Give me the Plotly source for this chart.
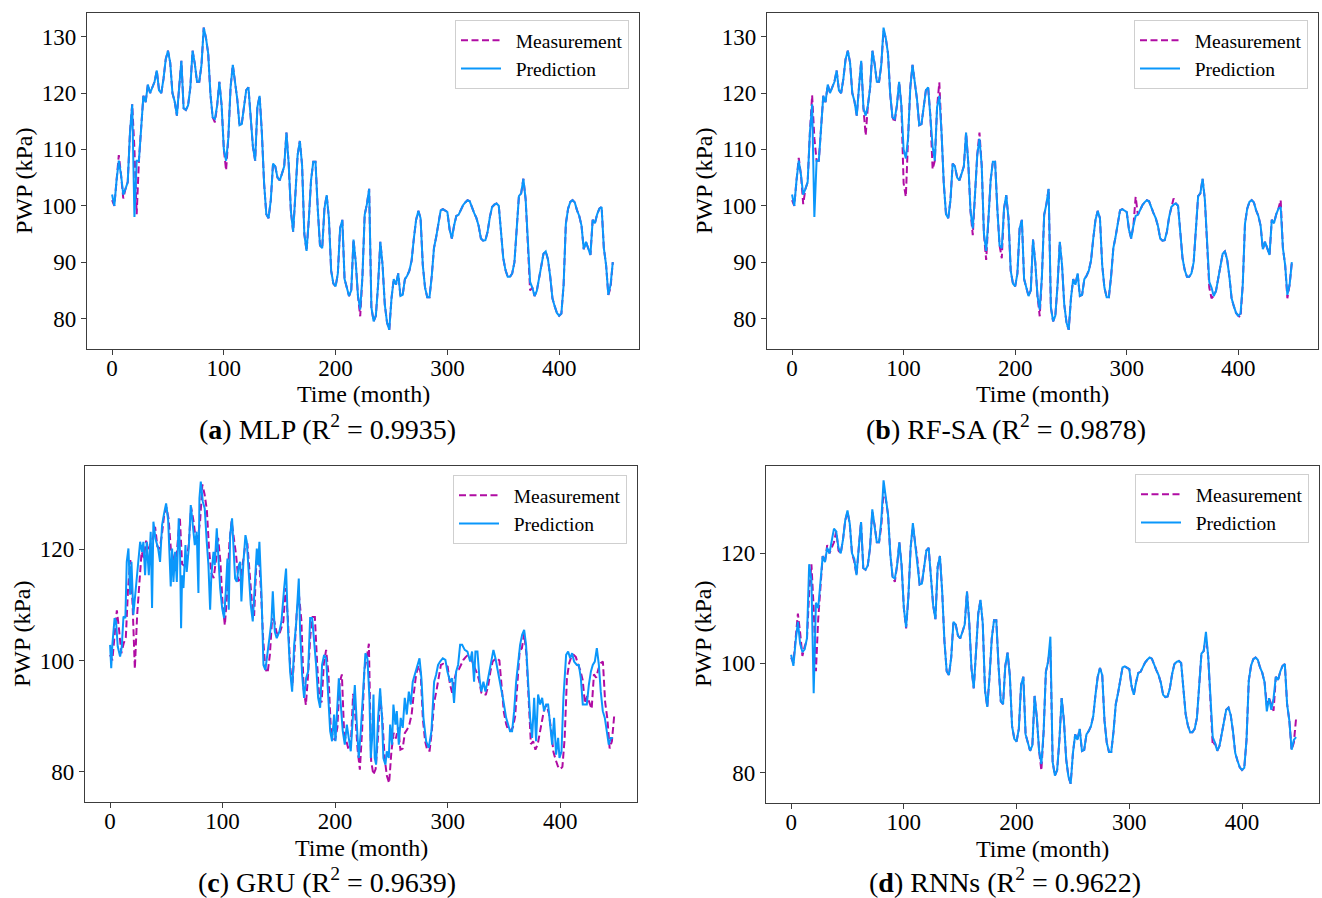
import plotly.graph_objects as go

# ---------------- data ----------------
months = list(range(0, 450, 2))  # 0, 2, ..., 448

measurement = [
    101, 100, 104.5, 109, 105.5, 101.3, 103, 104.2, 113, 118,
    110, 98.5, 108, 113.5, 119.5, 118.4, 121.5, 120, 121, 122,
    124, 120.5, 120, 122.5, 126, 127.5, 125.4, 120, 118.5, 116,
    121, 125.7, 117.3, 117, 117.8, 121, 127.5, 125.2, 122, 122,
    125, 131.6, 129.8, 127, 119.8, 115.7, 114.8, 117.8, 122, 117.8,
    110, 106.3, 112, 121, 125, 121.9, 118.9, 114.3, 114.5, 117.5,
    120.5, 121, 116, 110.5, 108, 117.5, 119.5, 113, 104, 98.5,
    97.8, 101, 107.5, 107, 105, 104.5, 105.7, 107, 113, 107.5,
    99, 95.4, 102, 109, 111.5, 107.2, 95, 92, 97.5, 104.5,
    107.8, 107.8, 99.5, 93, 92.5, 99.5, 101.9, 97.8, 88.5, 86.2,
    85.7, 88, 96, 97.5, 87, 85.6, 84, 85, 94, 90,
    84, 80.4, 87.5, 98.4, 100.3, 103, 82, 79.5, 80.5, 86,
    93.6, 89.5, 82.5, 79.3, 78, 83.6, 87, 86, 88, 84,
    84.2, 87, 87.6, 88.5, 90.3, 94.2, 97.5, 99.1, 97.8, 89.5,
    85.5, 83.8, 83.8, 87.5, 92.5, 94.5, 96.6, 99.2, 99.4, 99.2,
    98.9, 95.8, 94.2, 96.5, 98.2, 98.4, 99.3, 100.1, 100.6, 101,
    100.8, 99.6, 98.7, 97.8, 96.4, 94.2, 93.8, 93.9, 95.4, 98,
    99.8, 100.2, 100.4, 100, 95.4, 90.7, 88.6, 87.4, 87.4, 88,
    90, 96.5, 101.7, 102.2, 104.8, 101.2, 93, 85, 85.5, 84,
    84.9, 87.2, 89, 91.5, 91.9, 90.5, 87.5, 83.6, 82.2, 81,
    80.5, 80.9, 86, 96.8, 99.5, 100.7, 101, 100.6, 99.2, 98.2,
    96.5, 92.3, 93.6, 92.5, 91.3, 97.5, 96.9, 98.5, 99.5, 99.8,
    92.5, 89.5, 84.2, 85.5, 90,
]

pred_mlp = [
    102, 100, 104.5, 108, 105.5, 102, 103, 104.2, 113, 118,
    98, 108, 108, 113.5, 119.5, 118.4, 121.5, 120, 121, 122,
    124, 120.5, 120, 122.5, 126, 127.5, 125.4, 120, 118.5, 116,
    121, 125.7, 117.3, 117, 117.8, 121, 127.5, 125.2, 122, 122,
    125, 131.6, 129.8, 127, 119.8, 115.7, 115.4, 117.8, 122, 117.8,
    110, 108, 112, 121, 125, 121.9, 118.9, 114.3, 114.5, 117.5,
    120.5, 121, 116, 110.5, 108, 117.5, 119.5, 113, 104, 98.5,
    97.8, 101, 107.5, 107, 105, 104.5, 105.7, 107, 113, 107.5,
    99, 95.4, 102, 109, 111.5, 107.2, 95, 92, 97.5, 104.5,
    107.8, 107.8, 99.5, 93, 92.5, 99.5, 101.9, 97.8, 88.5, 86.2,
    85.7, 88, 96, 97.5, 87, 85.6, 84, 85, 94, 90,
    84, 81.6, 87.5, 98.4, 100.3, 103, 82, 79.5, 80.5, 86,
    93.6, 89.5, 82.5, 79.3, 78, 83.6, 87, 86, 88, 84,
    84.2, 87, 87.6, 88.5, 90.3, 94.2, 97.5, 99.1, 97.8, 89.5,
    85.5, 83.8, 83.8, 87.5, 92.5, 94.5, 96.6, 99.2, 99.4, 99.2,
    98.9, 95.8, 94.2, 96.5, 98.2, 98.4, 99.3, 100.1, 100.6, 101,
    100.8, 99.6, 98.7, 97.8, 96.4, 94.2, 93.8, 93.9, 95.4, 98,
    99.8, 100.2, 100.4, 100, 95.4, 90.7, 88.6, 87.4, 87.4, 88,
    90, 96.5, 101.7, 102.2, 104.8, 101.2, 93, 86.5, 85.5, 84,
    84.9, 87.2, 89, 91.5, 91.9, 90.5, 87.5, 83.6, 82.2, 81,
    80.5, 80.9, 86, 96.8, 99.5, 100.7, 101, 100.6, 99.2, 98.2,
    96.5, 92.3, 93.6, 92.5, 91.3, 97.5, 96.9, 98.5, 99.5, 99.8,
    92.5, 89.5, 84.2, 86, 90,
]

measurement_rfsa = [
    101, 100, 104.5, 108.5, 105.5, 100.3, 103, 104.2, 113, 119.6,
    112, 108, 108, 113.5, 119.5, 118.4, 121.5, 120, 121, 122,
    124, 120.5, 120, 122.5, 126, 127.5, 125.4, 120, 118.5, 116,
    121, 125.7, 117.3, 112.5, 117.8, 121, 127.5, 125.2, 122, 122,
    125, 131, 129.8, 127, 119.8, 115.7, 114.8, 117.8, 122, 117.8,
    104, 101.6, 112, 121, 125, 121.9, 118.9, 114.3, 114.5, 117.5,
    120.5, 121, 116, 106.5, 108, 117.5, 121.9, 113, 104, 98.5,
    97.8, 101, 107.5, 107, 105, 104.5, 105.7, 107, 113, 107.5,
    99, 94.8, 102, 109, 113, 107.2, 95, 90.4, 97.5, 104.5,
    107.8, 107.8, 99.5, 93, 90.7, 99.5, 101.9, 97.8, 88.5, 86.2,
    85.7, 88, 96, 97.5, 87, 85.6, 84, 85, 94, 90,
    84, 80.4, 87.5, 98.4, 100.3, 103, 82, 79.5, 80.5, 86,
    93.6, 89.5, 82.5, 79.3, 78, 83.6, 87, 86, 88, 84,
    84.2, 87, 87.6, 88.5, 90.3, 94.2, 97.5, 99.1, 97.8, 89.5,
    85.5, 83.8, 83.8, 87.5, 92.5, 94.5, 96.6, 99.2, 99.4, 99.2,
    98.9, 95.8, 94.2, 96.5, 101.6, 98.4, 99.3, 100.1, 100.6, 101,
    100.8, 99.6, 98.7, 97.8, 96.4, 94.2, 93.8, 93.9, 95.4, 98,
    99.8, 101.3, 100.4, 100, 95.4, 90.7, 88.6, 87.4, 87.4, 88,
    90, 96.5, 101.7, 102.2, 104.8, 101.2, 93, 85.5, 83.6, 84,
    84.9, 87.2, 89, 91.5, 91.9, 90.5, 87.5, 83.6, 82.2, 81,
    80.5, 80.2, 86, 96.8, 99.5, 100.7, 101, 100.6, 99.2, 98.2,
    96.5, 92.3, 93.6, 92.5, 91.3, 97.5, 96.9, 98.5, 99.5, 101,
    92.5, 89.5, 83.6, 86, 90,
]

pred_rfsa = [
    102, 100, 104.5, 108, 105.5, 102, 103, 104.2, 113, 118,
    98, 108, 108, 113.5, 119.5, 118.4, 121.5, 120, 121, 122,
    124, 120.5, 120, 122.5, 126, 127.5, 125.4, 120, 118.5, 116,
    121, 125.7, 117.3, 116, 117.8, 121, 127.5, 125.2, 122, 122,
    125, 131.6, 129.8, 127, 119.8, 115.7, 115.4, 117.8, 122, 117.8,
    110, 108.4, 112, 121, 125, 121.9, 118.9, 114.3, 114.5, 117.5,
    120.5, 121, 116, 110.5, 108, 117.5, 119.5, 113, 104, 98.5,
    97.8, 101, 107.5, 107, 105, 104.5, 105.7, 107, 113, 107.5,
    99, 96, 102, 109, 111.9, 107.2, 95, 92, 97.5, 104.5,
    107.8, 107.8, 99.5, 93, 92.5, 99.5, 101.9, 97.8, 88.5, 86.2,
    85.7, 88, 96, 97.5, 87, 85.6, 84, 85, 94, 90,
    84, 81.6, 87.5, 98.4, 100.3, 103, 82, 79.5, 80.5, 86,
    93.6, 89.5, 82.5, 79.3, 78, 83.6, 87, 86, 88, 84,
    84.2, 87, 87.6, 88.5, 90.3, 94.2, 97.5, 99.1, 97.8, 89.5,
    85.5, 83.8, 83.8, 87.5, 92.5, 94.5, 96.6, 99.2, 99.4, 99.2,
    98.9, 95.8, 94.2, 96.5, 98.2, 98.4, 99.3, 100.1, 100.6, 101,
    100.8, 99.6, 98.7, 97.8, 96.4, 94.2, 93.8, 93.9, 95.4, 98,
    99.8, 100.2, 100.4, 100, 95.4, 90.7, 88.6, 87.4, 87.4, 88,
    90, 96.5, 101.7, 102.2, 104.8, 101.2, 93, 86.5, 85.5, 84,
    84.9, 87.2, 89, 91.5, 91.9, 90.5, 87.5, 83.6, 82.2, 81,
    80.5, 80.9, 86, 96.8, 99.5, 100.7, 101, 100.6, 99.2, 98.2,
    96.5, 92.3, 93.6, 92.5, 91.3, 97.5, 96.9, 98.5, 99.5, 99.8,
    92.5, 89.5, 84.2, 86, 90,
]

# GRU prediction is read at its own (irregular) months
months_gru = [
    0, 1, 2, 4, 5.3, 6.8, 8.9, 10.4, 11.9, 13.6, 14.8, 16.3, 17.8, 19, 20.7,
    22.5, 24.3, 26.7, 28.4, 29.6, 31.1, 32.6, 34.4, 36.1, 37.3, 38.5, 40.3,
    42.7, 44.4, 46.2, 48, 49.8, 51.6, 52.7, 53.9, 55.1, 56.3, 57.8, 59.3, 61,
    62.2, 63.1, 64, 65.2, 67, 68.1, 69.9, 71.7, 73.5, 75.3, 77, 78.5, 79.4,
    80.6, 82.4, 84.1, 85.9, 87.4, 88.9, 90, 91.9, 93, 94.8, 96.3, 97.8, 99.6,
    101.3, 102.8, 104.3, 105.5, 106.7, 108.4, 109.6, 111.1, 112.6, 114.4,
    115.6, 116.7, 118.5, 120.3, 121.5, 123.3, 125, 126.8, 128.6, 130.4, 131.6,
    132.7, 134.5, 136.3, 138, 139.9, 141.6, 143.4, 144.6, 146.4, 148.1, 150.5,
    152.3, 154.7, 156.4, 158.2, 160, 161.8, 163.6, 165.3, 166.5, 167.7, 168.9,
    170.7, 172.4, 174.2, 176, 177.8, 179.6, 181.3, 183.1, 184.9, 186.7, 188.4,
    190.2, 192, 193.8, 195.6, 197.3, 199.1, 200.3, 202.1, 203.3, 205, 206.8,
    208.6, 210.4, 212.1, 213.9, 215.7, 217.5, 219.3, 221, 222.8, 225.2, 226.9,
    228.7, 230.5, 231.7, 232.9, 234.1, 235.2, 236.4, 238.2, 240, 241.7, 242.9,
    244.7, 245.9, 247.7, 248.9, 250.6, 251.8, 253.6, 254.8, 256.6, 258.3,
    260.1, 261.9, 263.7, 265.5, 267.2, 269, 271.4, 273.2, 275, 276.7, 278.5,
    280.9, 283.2, 285.6, 288, 289.7, 291.5, 293.3, 295.7, 298, 299.8, 302.2,
    304, 305.7, 307.5, 309.3, 311.1, 312.9, 315.2, 317.6, 320, 321.7, 323.5,
    324.7, 326.5, 328.3, 330, 331.8, 333.6, 335.4, 337.1, 338.9, 340.7, 342.5,
    344.9, 347.2, 349.6, 352, 353.7, 355.5, 357.3, 359.1, 360.9, 362.6, 364.4,
    366.2, 368, 369.7, 371.5, 373.3, 375.1, 376.9, 378.6, 380.4, 382.2, 384,
    385.7, 387.5, 389.3, 391.1, 392.9, 394.6, 396.4, 398.2, 399.4, 401.2,
    402.9, 405.3, 407.1, 408.9, 410.6, 412.4, 414.8, 416.6, 418.4, 420.1,
    421.9, 423.7, 425.5, 427.3, 429, 430.8, 432.6, 434.4, 436.1, 437.9, 439.7,
    441.5, 443.2, 445, 446.8,
]

pred_gru = [
    102.8, 98.6, 102.8, 107.6, 107, 102.5, 100.7, 102.5, 107.9, 107.6, 117.7,
    120.1, 111.8, 117.7, 108.2, 112.4, 117.1, 121.3, 119.5, 121.3, 115.3,
    121.3, 115.3, 123.1, 109.4, 124.9, 121.9, 120.1, 117.7, 124.3, 126.4,
    128.2, 125.2, 118.9, 113.3, 120.1, 114.1, 119.5, 114.1, 125.5, 118.9,
    105.8, 115.3, 113, 120.7, 115.9, 120.1, 127.9, 124.3, 120.7, 123.1, 112.1,
    129.1, 132.1, 128.5, 127.3, 121.3, 117.1, 109.1, 115.3, 119.5, 117.1,
    123.7, 117.1, 113, 109.4, 107.6, 112.4, 118.3, 109.1, 122.5, 125.5, 120.7,
    114.7, 114.1, 117.1, 117.7, 110.6, 117.7, 122.5, 121.3, 115.3, 110, 107,
    114.7, 120.1, 117.1, 121.3, 112.4, 99.2, 98.3, 101, 104, 107, 112.4, 105.2,
    104, 105.2, 107, 113, 116.5, 105.2, 98, 94.4, 102.8, 106.4, 111.2, 114.7,
    105.2, 97.4, 93.3, 96.8, 98, 107.6, 107.6, 104, 99.2, 93.3, 91.5, 99.2,
    101, 100.4, 93.3, 87.3, 85.5, 90.3, 85.5, 93.9, 96.8, 92.1, 87.3, 84.9,
    88.5, 86.1, 83.7, 89.7, 95.6, 88.5, 82.5, 87.3, 96.8, 101.3, 100.4, 93.3,
    82.5, 86.1, 93.9, 82.5, 81.3, 89.7, 95, 89.7, 82.5, 81.3, 83.7, 82.5, 88.5,
    84.9, 92.1, 88.5, 90.9, 84.9, 89.7, 87.9, 93.3, 90.3, 94.4, 92.1, 96.2, 98,
    99.2, 100.4, 96.8, 89.7, 85.5, 84.3, 87.3, 96.2, 97.4, 99.2, 99.8, 100.4,
    100.1, 98, 96.2, 96.8, 92.4, 98, 99.2, 102.8, 102.8, 101.9, 101.6, 99.8,
    101.6, 96.2, 101.6, 101.6, 96.8, 94.4, 96.2, 94.4, 96.2, 98, 100.1, 101.9,
    100.4, 98, 95.6, 92.7, 89.7, 88.5, 87.3, 87.3, 90.9, 96.2, 99.8, 102.8,
    104.6, 105.5, 102.8, 96.8, 89.7, 86.1, 93.3, 85.5, 93.9, 92.1, 93.3, 90.9,
    92.1, 92.1, 88.5, 84.9, 89.7, 83.1, 86.1, 82.5, 83.7, 93.3, 101, 101.6,
    100.4, 101.3, 99.8, 99.2, 99.2, 96.8, 92.1, 92.1, 92.1, 95.6, 98, 99.2,
    99.8, 102.2, 99.2, 94.4, 90.9, 89.7, 87.3, 84.9, 86.1, 86.1,
]

pred_rnn = [
    101.5, 99.5, 104, 107.5, 103.5, 102, 102.5, 104.5, 118, 115,
    94.5, 111, 110, 115, 119.5, 118.4, 121, 120, 122, 124.5,
    124, 121, 120, 122.5, 126, 127.8, 125.4, 120, 119, 116,
    121, 125.7, 117.3, 117, 117.8, 121, 128, 125.2, 122, 122,
    126, 133.3, 130, 127, 119.8, 115.7, 115.4, 117.8, 122, 117.8,
    110, 106.5, 112, 121, 125.5, 121.9, 118.9, 114.3, 114.5, 117.5,
    120.5, 121, 116, 110.5, 108, 117.5, 119.5, 113, 104, 98.5,
    97.8, 101, 107.5, 107, 105, 104.5, 105.7, 107, 113, 107.5,
    99, 95.4, 102, 109, 111.5, 107.2, 95, 92, 97.5, 104.5,
    107.8, 107.8, 99.5, 93, 92.5, 99.5, 101.9, 97.8, 88.5, 86.2,
    85.7, 88, 96, 97.5, 87, 85.6, 84, 85, 94, 90,
    84, 81.6, 87.5, 98.4, 100.3, 104.8, 82, 79.5, 80.5, 86,
    93.6, 89.5, 82.5, 79.3, 78, 83.6, 87, 86, 88, 84,
    84.2, 87, 87.6, 88.5, 90.3, 94.2, 97.5, 99.1, 97.8, 89.5,
    85.5, 83.8, 83.8, 87.5, 92.5, 94.5, 96.6, 99.2, 99.4, 99.2,
    98.9, 95.8, 94.2, 96.5, 98.2, 98.4, 99.3, 100.1, 100.6, 101,
    100.8, 99.6, 98.7, 97.8, 96.4, 94.2, 93.8, 93.9, 95.4, 98,
    99.8, 100.2, 100.4, 100, 95.4, 90.7, 88.6, 87.4, 87.4, 88,
    90, 96.5, 101.7, 102.2, 105.7, 101.2, 93, 86.5, 85.5, 84,
    84.9, 87.2, 89, 91.5, 91.9, 90.5, 87.5, 83.6, 82.2, 81,
    80.5, 80.9, 86, 96.8, 99.5, 100.7, 101, 100.6, 99.2, 98.2,
    96.5, 91.2, 93.6, 91.5, 93.6, 97.5, 96.9, 98.5, 99.5, 99.8,
    92.5, 89.5, 84.2, 86, 86.5,
]

x_ticks = [0, 100, 200, 300, 400]
y_ticks_top = [80, 90, 100, 110, 120, 130]
y_ticks_bottom = [80, 100, 120]
captions = [
    "(<b>a</b>) MLP (R<sup>2</sup> = 0.9935)",
    "(<b>b</b>) RF-SA (R<sup>2</sup> = 0.9878)",
    "(<b>c</b>) GRU (R<sup>2</sup> = 0.9639)",
    "(<b>d</b>) RNNs (R<sup>2</sup> = 0.9622)",
]

# ---------------- styling / layout ----------------
W, H = 1322, 898
FONT = "Liberation Serif, Times New Roman, serif"
MEAS_COLOR = "#b00ca3"
PRED_COLOR = "#0a97fb"
AX_COLOR = "#3c3c3c"
NB = "\u00a0\u00a0"


def px_x(p):
    return p / W


def px_y(p):
    return 1 - p / H


panels = [
    dict(box=(87, 639, 13, 349), xr=[-22.45, 471.45], yr=[74.6, 134.2], yt=y_ticks_top,
         leg=(629, 20), xt=(363, 394), yt_pos=(24, 181), cap=(327, 427)),
    dict(box=(767, 1318, 13, 349), xr=[-22.45, 471.45], yr=[74.6, 134.2], yt=y_ticks_top,
         leg=(1308, 20), xt=(1042, 394), yt_pos=(704, 181), cap=(1006, 427)),
    dict(box=(85, 637, 466, 802), xr=[-22.3, 468.3], yr=[74.6, 134.9], yt=y_ticks_bottom,
         leg=(627, 475), xt=(361, 848), yt_pos=(22, 634), cap=(327, 880)),
    dict(box=(766, 1319, 466, 803), xr=[-22.3, 468.3], yr=[74.5, 135.9], yt=y_ticks_bottom,
         leg=(1309, 474), xt=(1042, 849), yt_pos=(703, 634), cap=(1005, 880)),
]

series = [
    (months, measurement, months, pred_mlp),
    (months, measurement_rfsa, months, pred_rfsa),
    (months, measurement, months_gru, pred_gru),
    (months, measurement, months, pred_rnn),
]

fig = go.Figure()
layout = dict(
    width=W, height=H,
    margin=dict(l=0, r=0, t=0, b=0),
    paper_bgcolor="white", plot_bgcolor="white",
    font=dict(family=FONT, color="black"),
    showlegend=True,
    annotations=[],
)

for i, (p, (mx, my, px, py)) in enumerate(zip(panels, series)):
    n = "" if i == 0 else str(i + 1)
    leg = "legend" + n
    fig.add_trace(go.Scatter(
        x=mx, y=my, mode="lines", name=NB + "Measurement",
        xaxis="x" + n, yaxis="y" + n, legend=leg,
        line=dict(color=MEAS_COLOR, width=2, dash="7px,3.5px"),
    ))
    fig.add_trace(go.Scatter(
        x=px, y=py, mode="lines", name=NB + "Prediction",
        xaxis="x" + n, yaxis="y" + n, legend=leg,
        line=dict(color=PRED_COLOR, width=2),
    ))
    x0, x1, yt, yb = p["box"]
    common = dict(
        showline=True, mirror=True, linecolor=AX_COLOR, linewidth=1.3,
        ticks="outside", ticklen=5, tickwidth=1.3, tickcolor=AX_COLOR,
        showgrid=False, zeroline=False,
        tickfont=dict(family=FONT, size=23, color="black"),
    )
    layout["xaxis" + n] = dict(
        common, domain=[px_x(x0), px_x(x1)], range=p["xr"],
        tickmode="array", tickvals=x_ticks, anchor="y" + n,
        ticklabelstandoff=-7,
    )
    layout["yaxis" + n] = dict(
        common, domain=[px_y(yb), px_y(yt)], range=p["yr"],
        tickmode="array", tickvals=p["yt"], anchor="x" + n,
    )
    lx, ly = p["leg"]
    layout[leg] = dict(
        x=px_x(lx), y=px_y(ly), xanchor="right", yanchor="top",
        bgcolor="rgba(255,255,255,0.85)", bordercolor="#cfcfcf", borderwidth=1,
        font=dict(family=FONT, size=19.5, color="black"),
        itemwidth=40, traceorder="normal",
    )
    ax, ay = p["xt"]
    layout["annotations"].append(dict(
        text="Time (month)", x=px_x(ax), y=px_y(ay), xref="paper", yref="paper",
        xanchor="center", yanchor="middle", showarrow=False,
        font=dict(family=FONT, size=24, color="black"),
    ))
    tx, ty = p["yt_pos"]
    layout["annotations"].append(dict(
        text="PWP (kPa)", x=px_x(tx), y=px_y(ty), xref="paper", yref="paper",
        xanchor="center", yanchor="middle", showarrow=False, textangle=-90,
        font=dict(family=FONT, size=24, color="black"),
    ))
    cx, cy = p["cap"]
    layout["annotations"].append(dict(
        text=captions[i], x=px_x(cx), y=px_y(cy), xref="paper", yref="paper",
        xanchor="center", yanchor="middle", showarrow=False,
        font=dict(family=FONT, size=28, color="black"),
    ))

fig.update_layout(layout)
# remove the browser's default 8px page margin so the figure fills the window exactly
fig.write_html(
    "out.html",
    config={"displayModeBar": False},
    post_script="document.body.style.margin='0';document.body.style.overflow='hidden';",
)
